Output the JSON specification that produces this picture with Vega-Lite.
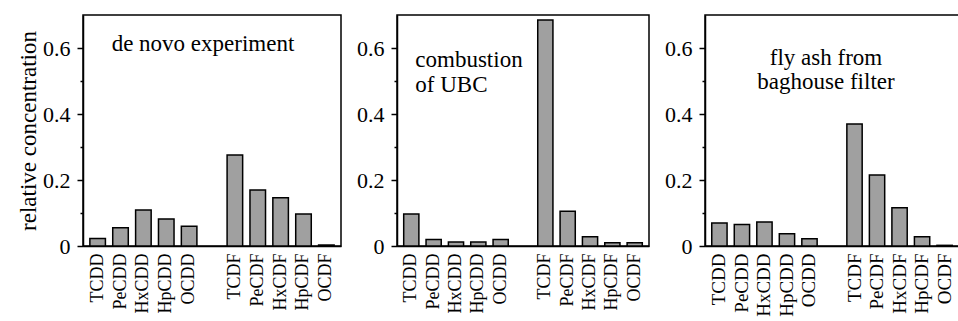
{
  "$schema": "https://vega.github.io/schema/vega-lite/v6.json",
  "padding": {"left": 16, "top": 14, "right": 0, "bottom": 0},
  "background": "white",
  "config": {
    "font": "Liberation Serif",
    "view": {"stroke": "black", "strokeWidth": 1.5},
    "mark": {"font": "Liberation Serif"},
    "text": {"font": "Liberation Serif"},
    "axis": {"labelColor": "black", "titleColor": "black", "domainColor": "black", "tickColor": "black", "grid": false, "labelFont": "Liberation Serif", "titleFont": "Liberation Serif"}
  },
  "datasets": {
    "d": [
      {"panel": "A", "c": "TCDD", "v": 0.023},
      {"panel": "A", "c": "PeCDD", "v": 0.055},
      {"panel": "A", "c": "HxCDD", "v": 0.109},
      {"panel": "A", "c": "HpCDD", "v": 0.082},
      {"panel": "A", "c": "OCDD", "v": 0.06},
      {"panel": "A", "c": "TCDF", "v": 0.276},
      {"panel": "A", "c": "PeCDF", "v": 0.17},
      {"panel": "A", "c": "HxCDF", "v": 0.146},
      {"panel": "A", "c": "HpCDF", "v": 0.097},
      {"panel": "A", "c": "OCDF", "v": 0.003},
      {"panel": "B", "c": "TCDD", "v": 0.097},
      {"panel": "B", "c": "PeCDD", "v": 0.02},
      {"panel": "B", "c": "HxCDD", "v": 0.012},
      {"panel": "B", "c": "HpCDD", "v": 0.012},
      {"panel": "B", "c": "OCDD", "v": 0.02},
      {"panel": "B", "c": "TCDF", "v": 0.685},
      {"panel": "B", "c": "PeCDF", "v": 0.105},
      {"panel": "B", "c": "HxCDF", "v": 0.028},
      {"panel": "B", "c": "HpCDF", "v": 0.01},
      {"panel": "B", "c": "OCDF", "v": 0.01},
      {"panel": "C", "c": "TCDD", "v": 0.07},
      {"panel": "C", "c": "PeCDD", "v": 0.065},
      {"panel": "C", "c": "HxCDD", "v": 0.073},
      {"panel": "C", "c": "HpCDD", "v": 0.037},
      {"panel": "C", "c": "OCDD", "v": 0.022},
      {"panel": "C", "c": "TCDF", "v": 0.37},
      {"panel": "C", "c": "PeCDF", "v": 0.215},
      {"panel": "C", "c": "HxCDF", "v": 0.116},
      {"panel": "C", "c": "HpCDF", "v": 0.028},
      {"panel": "C", "c": "OCDF", "v": 0.002}
    ]
  },
  "spacing": 13,
  "hconcat": [
    {
      "width": 258, "height": 231,
      "resolve": {"axis": {"y": "independent"}},
      "layer": [
        {
          "data": {"name": "d"},
          "transform": [{"filter": "datum.panel == 'A'"}],
          "mark": {"type": "bar", "fill": "#a0a0a0", "stroke": "black", "strokeWidth": 1.5},
          "encoding": {
            "x": {"field": "c", "type": "nominal", "sort": null,
              "scale": {"domain": ["TCDD","PeCDD","HxCDD","HpCDD","OCDD","gap","TCDF","PeCDF","HxCDF","HpCDF","OCDF"], "paddingInner": 0.32, "paddingOuter": 0.3},
              "axis": {"title": null, "labelAngle": -90, "ticks": false, "labelPadding": 7, "labelFontSize": 18, "domainWidth": 1.5, "labelExpr": "datum.value == 'gap' ? '' : datum.value"}},
            "y": {"field": "v", "type": "quantitative", "scale": {"domain": [0, 0.7], "nice": false},
              "axis": {"values": [0, 0.2, 0.4, 0.6], "format": "~g", "tickSize": 6, "tickWidth": 1.5, "domainWidth": 1.5, "labelPadding": 7, "labelFontSize": 22, "title": "relative concentration", "titleFontSize": 23, "titleFontWeight": "normal", "titlePadding": 2}}
          }
        },
        {
          "data": {"values": [{"label": "de novo experiment", "c": "TCDD", "v": 0.612}]},
          "mark": {"type": "text", "font": "Liberation Serif, Times New Roman, serif", "fontWeight": 400, "fontSize": 23, "align": "left", "baseline": "middle", "dx": 14, "fill": "black"},
          "encoding": {
            "text": {"field": "label", "type": "nominal"},
            "x": {"field": "c", "type": "nominal",
              "axis": {"title": null, "labelAngle": -90, "ticks": false, "labelPadding": 7, "labelFontSize": 18, "domainWidth": 1.5, "labelExpr": "datum.value == 'gap' ? '' : datum.value"}},
            "y": {"field": "v", "type": "quantitative", "scale": {"domain": [0, 0.7], "nice": false},
              "axis": {"orient": "left", "values": [0.1, 0.3, 0.5], "labels": false, "domain": false, "tickSize": 3, "tickWidth": 1.5, "title": null}}
          }
        }
      ]
    },
    {
      "width": 252, "height": 231,
      "resolve": {"axis": {"y": "independent"}},
      "layer": [
        {
          "data": {"name": "d"},
          "transform": [{"filter": "datum.panel == 'B'"}],
          "mark": {"type": "bar", "fill": "#a0a0a0", "stroke": "black", "strokeWidth": 1.5},
          "encoding": {
            "x": {"field": "c", "type": "nominal", "sort": null,
              "scale": {"domain": ["TCDD","PeCDD","HxCDD","HpCDD","OCDD","gap","TCDF","PeCDF","HxCDF","HpCDF","OCDF"], "paddingInner": 0.32, "paddingOuter": 0.3},
              "axis": {"title": null, "labelAngle": -90, "ticks": false, "labelPadding": 7, "labelFontSize": 18, "domainWidth": 1.5, "labelExpr": "datum.value == 'gap' ? '' : datum.value"}},
            "y": {"field": "v", "type": "quantitative", "scale": {"domain": [0, 0.7], "nice": false},
              "axis": {"values": [0, 0.2, 0.4, 0.6], "format": "~g", "tickSize": 6, "tickWidth": 1.5, "domainWidth": 1.5, "labelPadding": 7, "labelFontSize": 22, "title": null}}
          }
        },
        {
          "data": {"values": [{"label": ["combustion", " of UBC"], "c": "TCDD", "v": 0.565}]},
          "mark": {"type": "text", "font": "Liberation Serif, Times New Roman, serif", "fontWeight": 400, "lineHeight": 25, "fontSize": 23, "align": "left", "baseline": "middle", "dx": 4, "fill": "black"},
          "encoding": {
            "text": {"field": "label", "type": "nominal"},
            "x": {"field": "c", "type": "nominal",
              "axis": {"title": null, "labelAngle": -90, "ticks": false, "labelPadding": 7, "labelFontSize": 18, "domainWidth": 1.5, "labelExpr": "datum.value == 'gap' ? '' : datum.value"}},
            "y": {"field": "v", "type": "quantitative", "scale": {"domain": [0, 0.7], "nice": false},
              "axis": {"orient": "left", "values": [0.1, 0.3, 0.5], "labels": false, "domain": false, "tickSize": 3, "tickWidth": 1.5, "title": null}}
          }
        }
      ]
    },
    {
      "width": 254, "height": 231,
      "resolve": {"axis": {"y": "independent"}},
      "layer": [
        {
          "data": {"name": "d"},
          "transform": [{"filter": "datum.panel == 'C'"}],
          "mark": {"type": "bar", "fill": "#a0a0a0", "stroke": "black", "strokeWidth": 1.5},
          "encoding": {
            "x": {"field": "c", "type": "nominal", "sort": null,
              "scale": {"domain": ["TCDD","PeCDD","HxCDD","HpCDD","OCDD","gap","TCDF","PeCDF","HxCDF","HpCDF","OCDF"], "paddingInner": 0.32, "paddingOuter": 0.3},
              "axis": {"title": null, "labelAngle": -90, "ticks": false, "labelPadding": 7, "labelFontSize": 19, "domainWidth": 1.5, "labelExpr": "datum.value == 'gap' ? '' : datum.value"}},
            "y": {"field": "v", "type": "quantitative", "scale": {"domain": [0, 0.7], "nice": false},
              "axis": {"values": [0, 0.2, 0.4, 0.6], "format": "~g", "tickSize": 6, "tickWidth": 1.5, "domainWidth": 1.5, "labelPadding": 7, "labelFontSize": 22, "title": null}}
          }
        },
        {
          "data": {"values": [{"label": ["fly ash from", "baghouse filter"], "c": "gap", "v": 0.57}]},
          "mark": {"type": "text", "font": "Liberation Serif, Times New Roman, serif", "fontWeight": 400, "lineHeight": 24, "fontSize": 23, "align": "center", "baseline": "middle", "dx": -6, "fill": "black"},
          "encoding": {
            "text": {"field": "label", "type": "nominal"},
            "x": {"field": "c", "type": "nominal",
              "axis": {"title": null, "labelAngle": -90, "ticks": false, "labelPadding": 7, "labelFontSize": 19, "domainWidth": 1.5, "labelExpr": "datum.value == 'gap' ? '' : datum.value"}},
            "y": {"field": "v", "type": "quantitative", "scale": {"domain": [0, 0.7], "nice": false},
              "axis": {"orient": "left", "values": [0.1, 0.3, 0.5], "labels": false, "domain": false, "tickSize": 3, "tickWidth": 1.5, "title": null}}
          }
        }
      ]
    }
  ]
}
